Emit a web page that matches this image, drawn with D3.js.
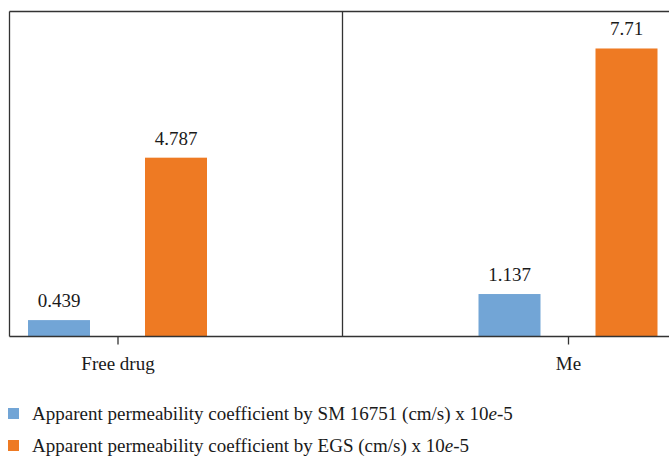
<!DOCTYPE html>
<html><head><meta charset="utf-8">
<script src="https://cdn.jsdelivr.net/npm/d3@7/dist/d3.min.js"></script>
<style>body{margin:0;background:#fff}svg{display:block}svg text{font-family:'Liberation Serif','Times New Roman',serif !important;fill:#1a1a1a}</style>
</head><body>
<script>
const categories = ["Free drug", "Me"];
const seriesNames = ["Apparent permeability coefficient by SM 16751 (cm/s) x 10", "Apparent permeability coefficient by EGS (cm/s) x 10"];
const smValues = [0.439, 1.137];
const egsValues = [4.787, 7.71];
const valueLabels = [["0.439", "1.137"], ["4.787", "7.71"]];
const colors = ["#72a5d6", "#ee7a23"];

const W = 669, H = 457;
const svg = d3.select("body").append("svg").attr("width", W).attr("height", H);

const x = d3.scalePoint().domain(categories).range([117.5, 568]);
const sub = d3.scaleBand().domain([0, 1]).range([-89.5, 89.5]).paddingInner(55 / 117);
const y = d3.scaleLinear().domain([0, 8.7]).range([336.5, 11.5]);

const series = [smValues, egsValues];
svg.append("line").attr("x1", 9.5).attr("x2", W).attr("y1", 11.5).attr("y2", 11.5).attr("stroke", "#333").attr("stroke-width", 1.3);
svg.append("line").attr("x1", 9.5).attr("x2", 9.5).attr("y1", 11.5).attr("y2", 336.5).attr("stroke", "#333").attr("stroke-width", 1.3);
svg.append("line").attr("x1", 342.5).attr("x2", 342.5).attr("y1", 11.5).attr("y2", 336.5).attr("stroke", "#333").attr("stroke-width", 1.3);

series.forEach((vals, si) => {
  svg.append("g").selectAll("rect").data(vals).join("rect")
    .attr("x", (d, i) => x(categories[i]) + sub(si))
    .attr("width", sub.bandwidth())
    .attr("y", d => y(d))
    .attr("height", d => y(0) - y(d))
    .attr("fill", colors[si]);
  svg.append("g").selectAll("text").data(vals).join("text")
    .attr("x", (d, i) => x(categories[i]) + sub(si) + sub.bandwidth() / 2)
    .attr("y", d => y(d) - 13)
    .attr("text-anchor", "middle")
    .attr("font-size", 19)
    .text((d, i) => valueLabels[si][i]);
});

const xAxis = svg.append("g").attr("transform", "translate(0,336.5)")
  .call(d3.axisBottom(x).tickSize(8).tickPadding(12));
xAxis.attr("font-family", null);
xAxis.select(".domain").attr("d", "M9.5,0H" + W).attr("stroke", "#333").attr("stroke-width", 1.3);
xAxis.selectAll(".tick line").attr("stroke", "#333").attr("stroke-width", 1.3);
xAxis.selectAll(".tick text").attr("font-size", 19).attr("fill", "#1a1a1a");

const leg = svg.append("g");
seriesNames.forEach((n, i) => {
  const yy = 419 + i * 32;
  leg.append("rect").attr("x", 8).attr("y", yy - 11).attr("width", 11).attr("height", 11).attr("fill", colors[i]);
  const t = leg.append("text").attr("x", 32).attr("y", yy + 1).attr("font-size", 19);
  t.append("tspan").text(n);
  t.append("tspan").attr("font-style", "italic").text("e");
  t.append("tspan").text("-5");
});
</script>
</body></html>
